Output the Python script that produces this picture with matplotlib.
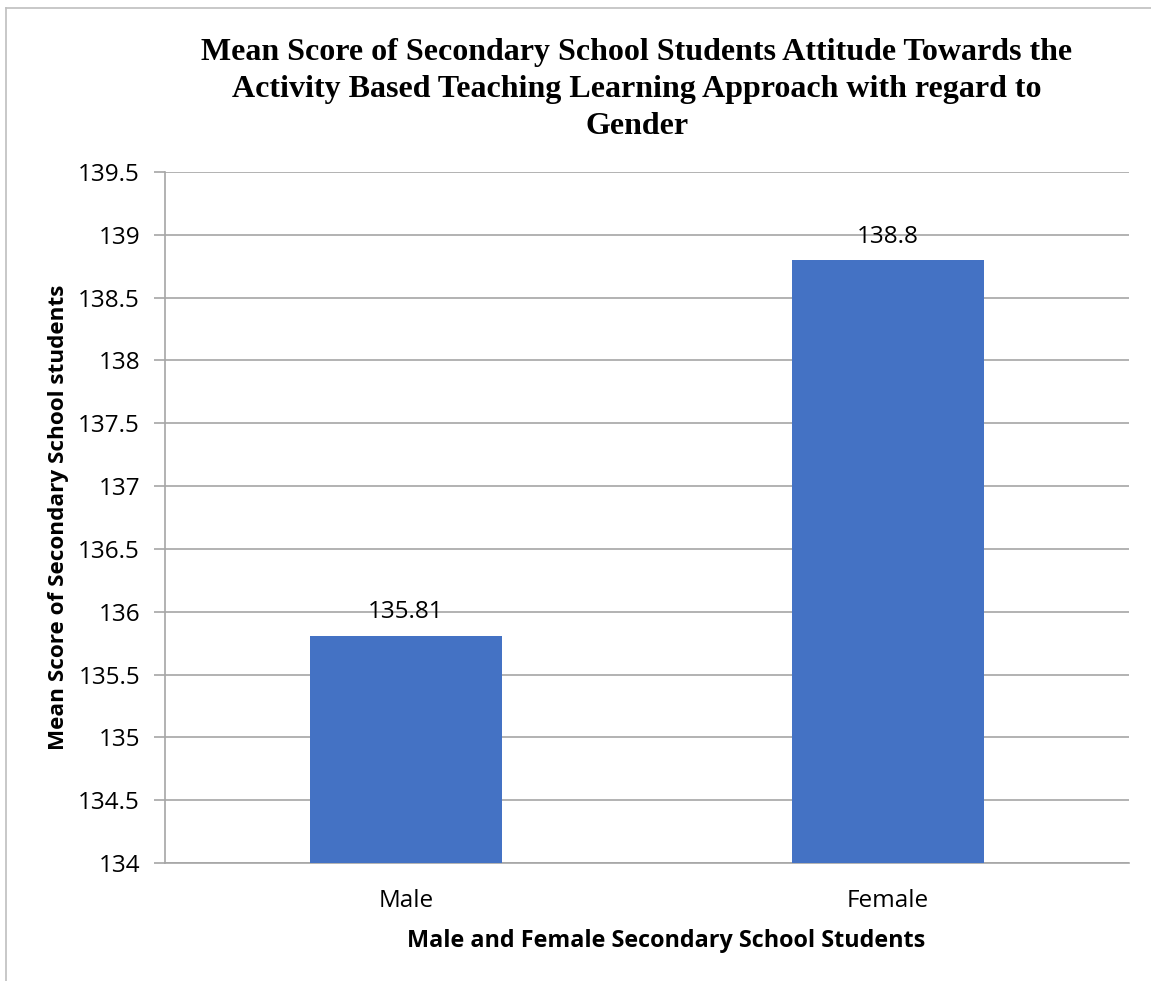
import matplotlib.pyplot as plt
from matplotlib.lines import Line2D

# mean attitude scores by gender
groups = ["Male", "Female"]
means = [135.81, 138.8]
yticks = [134, 134.5, 135, 135.5, 136, 136.5, 137, 137.5, 138, 138.5, 139, 139.5]

sans = "Open Sans"
fs = 17.5
W, H = 1151, 981
fig = plt.figure(figsize=(W / 100, H / 100), dpi=100)
ax = fig.add_axes([165 / W, 1 - 863 / H, (1129 - 165) / W, (863 - 172) / H])

x = range(len(groups))
bars = ax.bar(x, means, width=0.4, color="#4472C4", zorder=3)
for b, v in zip(bars, means):
    ax.annotate(f"{v:g}", (b.get_x() + b.get_width() / 2, v), xytext=(0, 8),
                textcoords="offset points", ha="center", va="bottom",
                fontsize=fs, family=sans, color="#000000")

ax.set_xlim(-0.5, 1.5)
ax.set_ylim(134, 139.5)
ax.set_yticks(yticks)
ax.set_yticklabels([f"{t:g}" for t in yticks], family=sans, fontsize=fs)
ax.set_xticks(list(x))
ax.set_xticklabels(groups, family=sans, fontsize=fs)
ax.tick_params(axis="x", length=0, pad=19)
ax.tick_params(axis="y", length=8, width=1.2, color="#A6A6A6", pad=10)
ax.grid(axis="y", color="#A6A6A6", linewidth=1.2, zorder=0)

for side in ["top", "right"]:
    ax.spines[side].set_visible(False)
for side in ["left", "bottom"]:
    ax.spines[side].set_color("#A6A6A6")
    ax.spines[side].set_linewidth(1.2)

ax.set_ylabel("Mean Score of Secondary School students", family=sans,
              fontsize=16.2, fontweight="bold")
ax.yaxis.set_label_coords((59 - 165) / (1129 - 165), 0.5)
ax.set_xlabel("Male and Female Secondary School Students", family=sans,
              fontsize=16.8, fontweight="bold")
ax.xaxis.set_label_coords((666 - 165) / (1129 - 165), -(941 - 863) / (863 - 172))
ax.xaxis.label.set_va("center")
ax.yaxis.label.set_va("center")

fig.text(637 / W, 1 - 38 / H,
         "Mean Score of Secondary School Students Attitude Towards the\n"
         "Activity Based Teaching Learning Approach with regard to\nGender",
         ha="center", va="top", family="Liberation Serif", fontweight="bold",
         fontsize=23, linespacing=1.37)

# chart frame (top and left edges)
fig.add_artist(Line2D([6 / W, 6 / W], [0, 1 - 8 / H], transform=fig.transFigure,
                      color="#BFBFBF", linewidth=1.2))
fig.add_artist(Line2D([6 / W, 1], [1 - 8 / H, 1 - 8 / H], transform=fig.transFigure,
                      color="#BFBFBF", linewidth=1.2))

fig.savefig("out.png", dpi=100)
